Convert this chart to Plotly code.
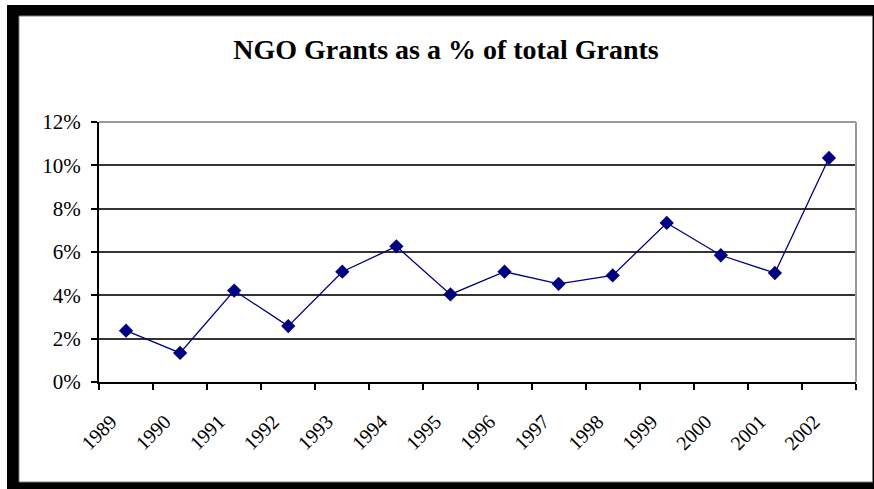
import plotly.graph_objects as go

years = ["1989", "1990", "1991", "1992", "1993", "1994", "1995",
         "1996", "1997", "1998", "1999", "2000", "2001", "2002"]
ngo_share_pct = [2.37, 1.34, 4.22, 2.58, 5.09, 6.26, 4.04,
                 5.09, 4.53, 4.92, 7.34, 5.85, 5.03, 10.34]
y_ticks = [0, 2, 4, 6, 8, 10, 12]
y_tick_labels = [f"{v}%" for v in y_ticks]

W, H = 874, 489
ML, MR, MT, MB = 99, 18, 122, 107
PW, PH = W - ML - MR, H - MT - MB


def px_x(px):
    return (px - ML) / PW


def px_y(py):
    return (H - MB - py) / PH


SERIF = "Times New Roman"

fig = go.Figure()
fig.add_trace(go.Scatter(
    x=years, y=ngo_share_pct, mode="lines+markers",
    line=dict(color="#000080", width=1.3),
    marker=dict(symbol="diamond", size=11, color="#000080"),
    showlegend=False, cliponaxis=False,
))

shapes = [
    # outer black frame
    dict(type="rect", xref="paper", yref="paper", layer="below",
         x0=px_x(7), x1=px_x(874), y0=px_y(489), y1=px_y(5),
         fillcolor="black", line=dict(width=0)),
    # inner white panel
    dict(type="rect", xref="paper", yref="paper", layer="below",
         x0=px_x(19), x1=px_x(872.5), y0=px_y(482), y1=px_y(16),
         fillcolor="white", line=dict(color="#808080", width=1)),
    # plot-area border (top and right, gray)
    dict(type="line", xref="paper", yref="paper", layer="above",
         x0=0, x1=1, y0=1, y1=1, line=dict(color="#9a9a9a", width=2)),
    dict(type="line", xref="paper", yref="paper", layer="above",
         x0=1, x1=1, y0=0, y1=1, line=dict(color="#9a9a9a", width=2)),
]

fig.update_layout(
    width=W, height=H,
    margin=dict(l=ML, r=MR, t=MT, b=MB),
    paper_bgcolor="white", plot_bgcolor="white",
    shapes=shapes,
    title=dict(text="<b>NGO Grants as a % of total Grants</b>",
               x=px_x(446), xref="paper", xanchor="center",
               y=1 - 49 / H, yref="container", yanchor="middle",
               font=dict(family=SERIF, size=28, color="black")),
    font=dict(family=SERIF, size=20, color="black"),
)

fig.update_xaxes(
    type="category", range=[-0.5, len(years) - 0.5],
    tickson="boundaries", ticks="outside", ticklen=6,
    tickwidth=2, tickcolor="black", showline=True, linecolor="black",
    linewidth=2, showgrid=False, tickangle=-45,
    tickfont=dict(family=SERIF, size=20, color="black"),
    ticklabelstandoff=18, ticklabelshift=-15,
)
fig.update_yaxes(
    range=[0, 12], tickmode="array", tickvals=y_ticks,
    ticktext=y_tick_labels, ticks="outside",
    ticklen=6, tickwidth=2, tickcolor="black", showline=True,
    linecolor="black", linewidth=2, showgrid=True, gridcolor="#333333",
    gridwidth=2, zeroline=False,
    tickfont=dict(family=SERIF, size=21, color="black"),
    ticklabelstandoff=6,
)

fig.write_html(
    "out.html",
    config={"displayModeBar": False},
    post_script="document.body.style.margin='0';"
                "document.body.style.overflow='hidden';",
)
